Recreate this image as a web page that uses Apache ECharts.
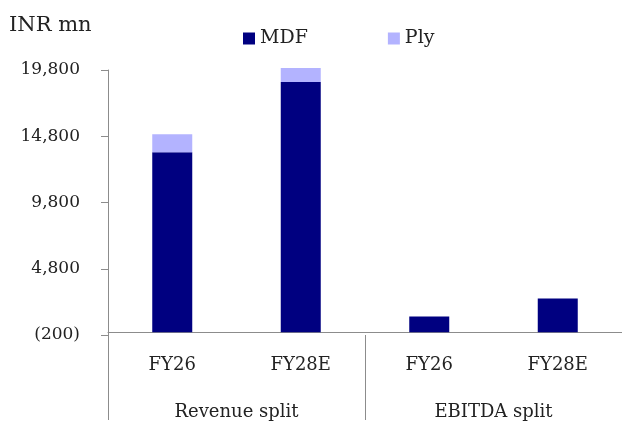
<!DOCTYPE html>
<html>
<head>
<meta charset="utf-8">
<script src="https://cdn.jsdelivr.net/npm/echarts@6/dist/echarts.min.js"></script>
<style>
  html, body { margin: 0; padding: 0; background: #fff; }
  #main { width: 622px; height: 421px; }
</style>
</head>
<body>
<div id="main"></div>
<script>
// data (INR mn)
var periods = ['FY26', 'FY28E', 'FY26', 'FY28E'];
var groups = ['Revenue split', 'EBITDA split'];
var mdf = [13600, 18900, 1200, 2550];
var ply = [1350, 1050, 0, 0];

var font = 'DejaVu Serif';
var textColor = '#222';
var axisGrey = '#8c8c8c';

function fmt(v) {
    var s = Math.abs(v).toLocaleString('en-US');
    return v < 0 ? '(' + s + ')' : s;
}

var myChart = echarts.init(document.getElementById('main'));
var option = {
    animation: false,
    textStyle: { fontFamily: font },
    title: {
        text: 'INR mn',
        left: 4,
        top: 10,
        textStyle: { fontFamily: font, fontSize: 21, fontWeight: 'normal', color: textColor }
    },
    legend: {
        data: ['MDF', 'Ply'],
        left: 238,
        top: 24,
        itemWidth: 12,
        itemHeight: 12,
        itemGap: 80,
        icon: 'rect',
        textStyle: { fontFamily: font, fontSize: 19, color: textColor }
    },
    grid: { left: 108, right: 0, top: 70, bottom: 85 },
    xAxis: [{
        type: 'category',
        data: periods,
        axisLine: { lineStyle: { color: axisGrey } },
        axisTick: { show: false },
        axisLabel: { fontFamily: font, fontSize: 18, color: textColor, margin: 21 }
    }, {
        type: 'category',
        data: groups,
        position: 'bottom',
        axisLine: { show: false },
        axisTick: { show: true, length: 85, lineStyle: { color: axisGrey } },
        axisLabel: { fontFamily: font, fontSize: 18, color: textColor, margin: 68 }
    }],
    yAxis: {
        type: 'value',
        min: -200,
        max: 19800,
        interval: 5000,
        splitLine: { show: false },
        axisLine: { show: true, lineStyle: { color: axisGrey } },
        axisTick: { show: true, length: 7, lineStyle: { color: axisGrey } },
        axisLabel: { fontFamily: font, fontSize: 17, color: textColor, margin: 28, formatter: fmt }
    },
    series: [{
        name: 'MDF',
        type: 'bar',
        stack: 'total',
        barWidth: 40,
        clip: false,
        itemStyle: { color: '#000080' },
        data: mdf
    }, {
        name: 'Ply',
        type: 'bar',
        stack: 'total',
        barWidth: 40,
        clip: false,
        itemStyle: { color: '#b3b3ff' },
        data: ply
    }]
};

myChart.setOption(option);
</script>
</body>
</html>
